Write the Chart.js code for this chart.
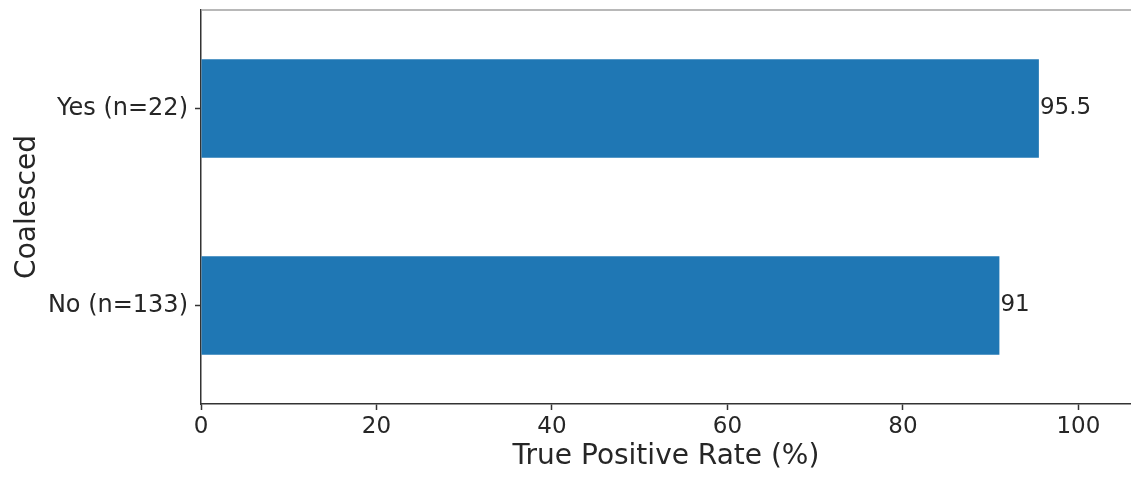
<!DOCTYPE html>
<html>
<head>
<meta charset="utf-8">
<script src="https://cdn.jsdelivr.net/npm/chart.js@4"></script>
<style>
    body { margin: 0; background: #fff; }
    #wrap { width: 1131px; height: 477px; }
</style>
</head>
<body>
<div id="wrap"><canvas id="tprChart"></canvas></div>
<script>
// values
const categories = ['Yes (n=22)', 'No (n=133)'];
const tprValues = [95.5, 91];
const xTickValues = [0, 20, 40, 60, 80, 100];

const textColor = '#262626';
const spineColor = '#333333';

// top spine (lighter) + value labels at bar ends
const extras = {
    id: 'extras',
    afterDatasetsDraw(chart) {
        const ctx = chart.ctx;
        const area = chart.chartArea;
        ctx.save();
        ctx.strokeStyle = '#a0a0a0';
        ctx.lineWidth = 1.5;
        ctx.beginPath();
        ctx.moveTo(area.left, area.top);
        ctx.lineTo(chart.width, area.top);
        ctx.stroke();

        ctx.fillStyle = textColor;
        ctx.font = '23px "DejaVu Sans"';
        ctx.textAlign = 'left';
        ctx.textBaseline = 'middle';
        chart.getDatasetMeta(0).data.forEach(function(bar, i) {
            ctx.fillText(String(tprValues[i]), bar.x + 1, bar.y);
        });
        ctx.restore();
    }
};

const ctx = document.getElementById('tprChart').getContext('2d');
new Chart(ctx, {
    type: 'bar',
    data: {
        labels: categories,
        datasets: [{
            data: tprValues,
            backgroundColor: '#1f77b4',
            borderWidth: 0,
            categoryPercentage: 1,
            barPercentage: 0.5
        }]
    },
    options: {
        indexAxis: 'y',
        responsive: true,
        maintainAspectRatio: false,
        animation: false,
        layout: {
            padding: { top: 0, right: 0, bottom: 0, left: 0 }
        },
        plugins: {
            legend: { display: false },
            tooltip: { enabled: false }
        },
        scales: {
            x: {
                min: 0,
                max: 106,
                afterBuildTicks: function(axis) {
                    axis.ticks = xTickValues.map(v => ({ value: v }));
                },
                afterFit: function(axis) {
                    axis.height = 73;
                },
                grid: {
                    drawOnChartArea: false,
                    drawTicks: true,
                    tickLength: 6,
                    tickWidth: 1.5,
                    tickColor: spineColor
                },
                border: { display: true, color: spineColor, width: 1.5 },
                ticks: {
                    color: textColor,
                    padding: 3,
                    maxRotation: 0,
                    font: { family: 'DejaVu Sans', size: 23 }
                },
                title: {
                    display: true,
                    text: 'True Positive Rate (%)',
                    color: textColor,
                    font: { family: 'DejaVu Sans', size: 28, lineHeight: 1 },
                    padding: { top: 0, bottom: 6 }
                }
            },
            y: {
                afterFit: function(axis) {
                    axis.width = 201;
                    axis.paddingTop = 10;
                    axis.paddingBottom = 0;
                },
                grid: {
                    offset: false,
                    drawOnChartArea: false,
                    drawTicks: true,
                    tickLength: 6,
                    tickWidth: 1.5,
                    tickColor: spineColor
                },
                border: { display: true, color: spineColor, width: 1.5 },
                ticks: {
                    color: textColor,
                    padding: 7,
                    font: { family: 'DejaVu Sans', size: 24 }
                },
                title: {
                    display: true,
                    text: 'Coalesced',
                    color: textColor,
                    font: { family: 'DejaVu Sans', size: 28, lineHeight: 1 },
                    padding: { top: 14, bottom: 0 }
                }
            }
        }
    },
    plugins: [extras]
});
</script>
</body>
</html>
